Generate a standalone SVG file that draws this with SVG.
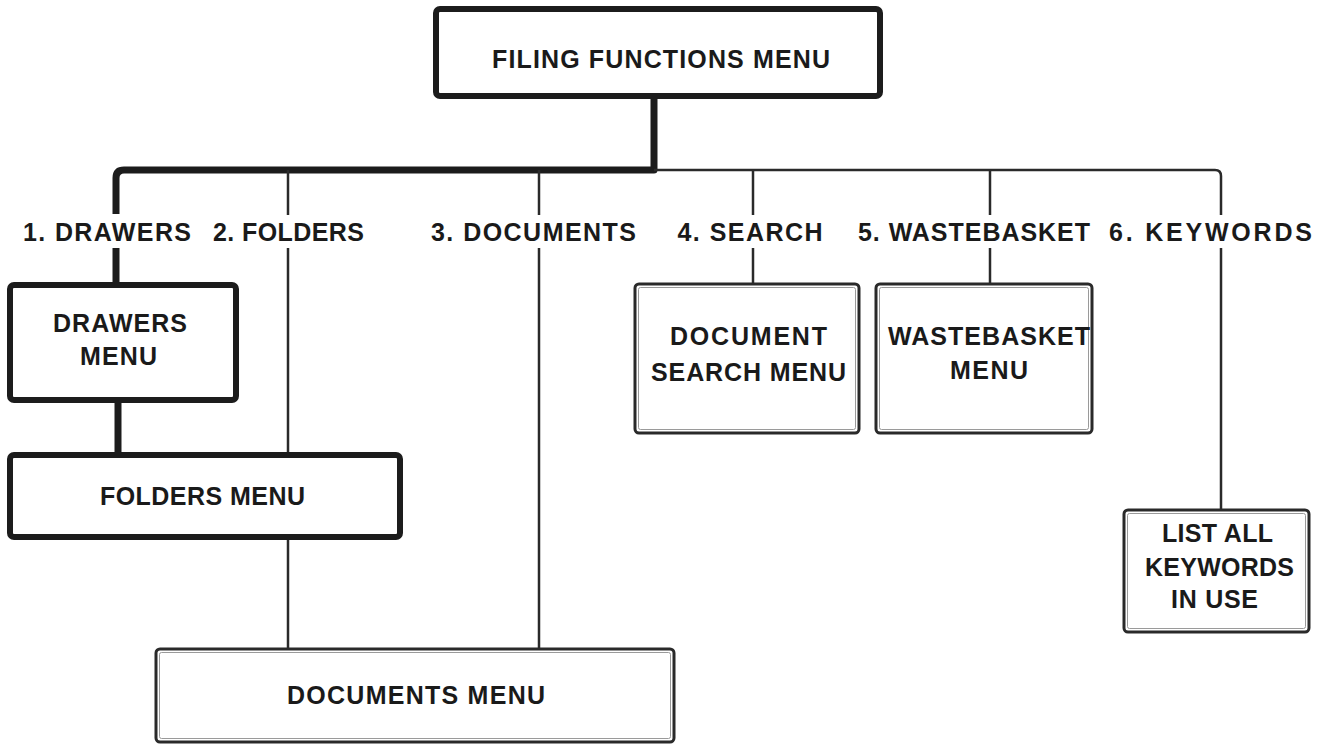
<svg xmlns="http://www.w3.org/2000/svg" width="1329" height="750" viewBox="0 0 1329 750">
  <style>
    .bg { fill: #ffffff; }
    .box-heavy { fill: #ffffff; stroke: #1c1c1c; stroke-width: 6; }
    .box-light { fill: #ffffff; stroke: #2a2a2a; stroke-width: 3; }
    .box-inner { fill: none; stroke: #9a9a9a; stroke-width: 1; }
    .label { font-family: "Liberation Sans", Arial, sans-serif; font-weight: bold; font-size: 25px; fill: #1a1a1a; text-anchor: middle; }
    .wire-heavy { fill: none; stroke: #1c1c1c; stroke-width: 7; stroke-linejoin: round; }
    .wire-light { fill: none; stroke: #2a2a2a; stroke-width: 2.5; stroke-linejoin: round; }
  </style>

  <rect class="bg" x="0" y="0" width="1329" height="750"/>

  <!-- connectors -->
  <g id="connectors">
    <!-- heavy path: main menu down to the bus and on to the drawers branch -->
    <path class="wire-heavy" d="M654 98 V170 H124 Q116 170 116 178 V214"/>
    <!-- light bus to the right-hand branches -->
    <path class="wire-light" d="M654 170 H1215 Q1221 170 1221 176 V215"/>
    <path class="wire-light" d="M288 170 V215"/>
    <path class="wire-light" d="M539 170 V215"/>
    <path class="wire-light" d="M753 170 V215"/>
    <path class="wire-light" d="M990 170 V215"/>
    <!-- below the option labels -->
    <path class="wire-heavy" d="M116 248 V283"/>
    <path class="wire-heavy" d="M118 401 V453"/>
    <path class="wire-light" d="M288 248 V453"/>
    <path class="wire-light" d="M288 538 V648"/>
    <path class="wire-light" d="M539 248 V648"/>
    <path class="wire-light" d="M753 248 V283"/>
    <path class="wire-light" d="M990 248 V283"/>
    <path class="wire-light" d="M1221 248 V509"/>
  </g>

  <!-- option labels -->
  <g id="options">
    <text class="label" x="107" y="241" textLength="168" lengthAdjust="spacing">1. DRAWERS</text>
    <text class="label" x="288.5" y="241" textLength="151" lengthAdjust="spacing">2. FOLDERS</text>
    <text class="label" x="533.5" y="241" textLength="205" lengthAdjust="spacing">3. DOCUMENTS</text>
    <text class="label" x="750" y="241" textLength="145" lengthAdjust="spacing">4. SEARCH</text>
    <text class="label" x="974" y="241" textLength="232" lengthAdjust="spacing">5. WASTEBASKET</text>
    <text class="label" x="1210.5" y="241" textLength="203" lengthAdjust="spacing">6. KEYWORDS</text>
  </g>

  <g id="filing-functions-menu">
    <rect class="box-heavy" x="436" y="9" width="444" height="87" rx="4"/>
    <text class="label" x="661" y="68" textLength="338" lengthAdjust="spacing">FILING FUNCTIONS MENU</text>
  </g>

  <g id="drawers-menu">
    <rect class="box-heavy" x="10" y="285" width="226" height="115" rx="4"/>
    <text class="label" x="120" y="332" textLength="134" lengthAdjust="spacing">DRAWERS</text>
    <text class="label" x="118.5" y="365" textLength="77" lengthAdjust="spacing">MENU</text>
  </g>

  <g id="folders-menu">
    <rect class="box-heavy" x="10" y="455" width="390" height="82" rx="4"/>
    <text class="label" x="202.5" y="505" textLength="205" lengthAdjust="spacing">FOLDERS MENU</text>
  </g>

  <g id="documents-menu">
    <rect class="box-light" x="156" y="649" width="518" height="93" rx="4"/>
    <rect class="box-inner" x="159.5" y="652.5" width="511" height="86" rx="2"/>
    <text class="label" x="416" y="704" textLength="258" lengthAdjust="spacing">DOCUMENTS MENU</text>
  </g>

  <g id="document-search-menu">
    <rect class="box-light" x="635" y="284" width="224" height="149" rx="4"/>
    <rect class="box-inner" x="638.5" y="287.5" width="217" height="142" rx="2"/>
    <text class="label" x="748.5" y="345" textLength="157" lengthAdjust="spacing">DOCUMENT</text>
    <text class="label" x="748.5" y="381" textLength="195" lengthAdjust="spacing">SEARCH MENU</text>
  </g>

  <g id="wastebasket-menu">
    <rect class="box-light" x="876" y="284" width="216" height="149" rx="4"/>
    <rect class="box-inner" x="879.5" y="287.5" width="209" height="142" rx="2"/>
    <text class="label" x="989" y="345" textLength="202" lengthAdjust="spacing">WASTEBASKET</text>
    <text class="label" x="989" y="379" textLength="78" lengthAdjust="spacing">MENU</text>
  </g>

  <g id="list-keywords">
    <rect class="box-light" x="1124" y="510" width="185" height="122" rx="4"/>
    <rect class="box-inner" x="1127.5" y="513.5" width="178" height="115" rx="2"/>
    <text class="label" x="1217.5" y="542" textLength="111" lengthAdjust="spacing">LIST ALL</text>
    <text class="label" x="1219.5" y="576" textLength="149" lengthAdjust="spacing">KEYWORDS</text>
    <text class="label" x="1214.5" y="608" textLength="87" lengthAdjust="spacing">IN USE</text>
  </g>
</svg>
